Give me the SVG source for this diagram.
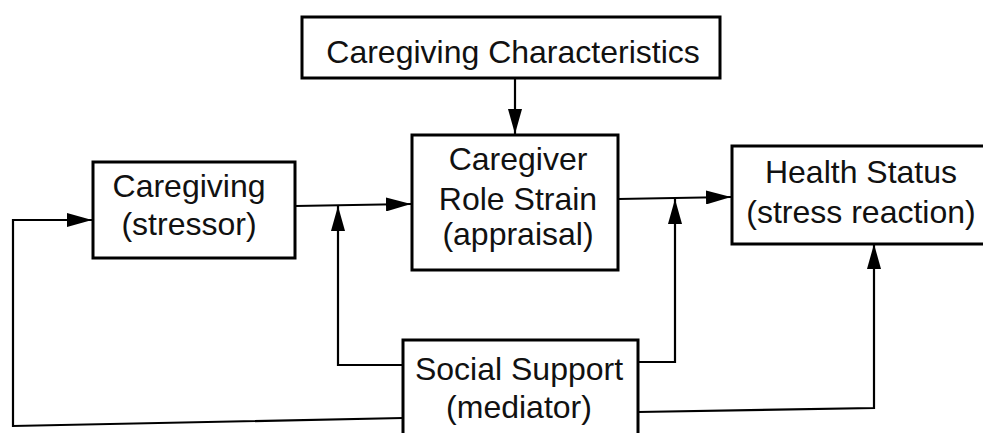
<svg xmlns="http://www.w3.org/2000/svg" width="983" height="433" viewBox="0 0 983 433">
<defs>
<marker id="arr" markerUnits="userSpaceOnUse" markerWidth="26" markerHeight="14" refX="25" refY="7" orient="auto">
<path d="M0,0 L25,7 L0,14 z" fill="#000"/>
</marker>
<style>
.box{fill:#fff;stroke:#000;stroke-width:3}
.lbl{font-family:"Liberation Sans",Arial,sans-serif;font-size:32px;fill:#111;text-anchor:middle}
.c{fill:none;stroke:#000;stroke-width:2.2}
.a{marker-end:url(#arr)}
</style>
</defs>
<rect width="983" height="433" fill="#fff"/>
<g id="connectors">
<path class="c a" d="M515,78 L515,134"/>
<path class="c a" d="M295,206 L411,204"/>
<path class="c a" d="M618,199 L731,197"/>
<path class="c a" d="M403,365 L338,365 L338,206"/>
<path class="c a" d="M638,362 L675,362 L675,199"/>
<path class="c a" d="M638,412 L874,408 L874,244"/>
<path class="c a" d="M403,418 L13,426 L13,220 L92,220"/>
</g>
<g id="caregiving-characteristics">
<rect class="box" x="302" y="17" width="418" height="61"/>
<text class="lbl" x="513" y="63">Caregiving Characteristics</text>
</g>
<g id="caregiving">
<rect class="box" x="93" y="162" width="202" height="96"/>
<text class="lbl" x="189" y="197">Caregiving</text>
<text class="lbl" x="189" y="235">(stressor)</text>
</g>
<g id="role-strain">
<rect class="box" x="412" y="135" width="206" height="135"/>
<text class="lbl" x="518" y="170">Caregiver</text>
<text class="lbl" x="518" y="210">Role Strain</text>
<text class="lbl" x="518" y="245">(appraisal)</text>
</g>
<g id="health-status">
<rect class="box" x="732" y="146" width="260" height="98"/>
<text class="lbl" x="861" y="183">Health Status</text>
<text class="lbl" x="861" y="223">(stress reaction)</text>
</g>
<g id="social-support">
<rect class="box" x="403" y="340" width="235" height="110"/>
<text class="lbl" x="519" y="380">Social Support</text>
<text class="lbl" x="519" y="418">(mediator)</text>
</g>
</svg>
